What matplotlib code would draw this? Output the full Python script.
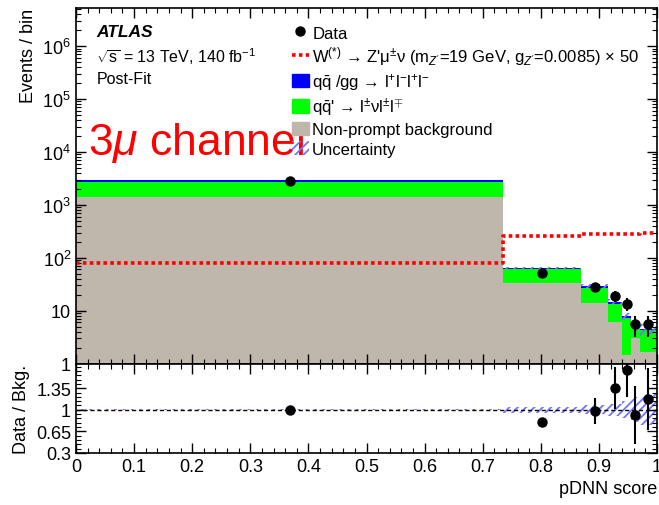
import numpy as np
import matplotlib
matplotlib.use("Agg")
from matplotlib import pyplot as plt
from matplotlib.patches import Patch
from matplotlib.lines import Line2D
from matplotlib.ticker import FixedLocator, LogLocator, NullFormatter, MultipleLocator

plt.rcParams['font.family'] = ['Liberation Sans', 'DejaVu Sans']
plt.rcParams['mathtext.fontset'] = 'custom'
plt.rcParams['mathtext.rm'] = 'Liberation Sans'
plt.rcParams['mathtext.it'] = 'Liberation Sans:italic'
plt.rcParams['mathtext.bf'] = 'Liberation Sans:bold'
plt.rcParams['hatch.linewidth'] = 1.3

# binning of the pDNN score
edges = [0.0, 0.735, 0.87, 0.915, 0.94, 0.955, 0.97, 1.0]

# stacked backgrounds (events / bin)
nonprompt = [1420, 33, 13.7, 6.2, 1.45, 3.06, 1.66]
wz = [1270, 28, 12.8, 7.1, 5.65, 1.6, 2.64]
zz = [230, 4, 2.8, 1.5, 0.8, 0.4, 0.2]
unc_rel = [0.01, 0.05, 0.07, 0.10, 0.14, 0.20, 0.25]

# signal x50
signal = [80, 254, 283, 285, 286, 287, 288]

# data
data = [2840, 52, 28, 19.2, 13.5, 5.6, 5.6]
data_err = [53, 7, 5, 4.4, 3.7, 2.4, 2.4]

# data / bkg
ratio = [1.0, 0.80, 0.98, 1.35, 1.64, 0.91, 1.18]
ratio_err = [0.02, 0.06, 0.21, 0.34, 0.44, 0.47, 0.5]

edges = np.array(edges)
centers = 0.5 * (edges[1:] + edges[:-1])
nonprompt = np.array(nonprompt)
wz = np.array(wz)
zz = np.array(zz)
total = nonprompt + wz + zz
unc_rel = np.array(unc_rel)

c_np = '#bfb6ac'
c_wz = '#00ff00'
c_zz = '#0000ff'
c_hatch = '#7373ff'

fig = plt.figure(figsize=(6.59, 5.06), dpi=100)
ax1 = fig.add_axes([0.1153, 0.2796, 0.8817, 0.702])
ax2 = fig.add_axes([0.1153, 0.1028, 0.8817, 0.1768], sharex=ax1)

def step(vals):
    return np.append(vals, vals[-1])

def fill(ax, lo, hi, **kw):
    ax.fill_between(edges, step(lo), step(hi), step='post', linewidth=0, **kw)

# main panel
fill(ax1, np.full(len(total), 0.5), nonprompt, color=c_np)
fill(ax1, nonprompt, nonprompt + wz, color=c_wz)
fill(ax1, nonprompt + wz, total, color=c_zz)
fill(ax1, total * (1 - unc_rel), total * (1 + unc_rel), facecolor='none',
     edgecolor=c_hatch, hatch='////')
ax1.step(edges, step(np.array(signal, dtype=float)), where='post', color='red',
         linestyle=(0, (1, 0.9)), linewidth=2.6)
ax1.errorbar(centers, data, yerr=data_err, fmt='o', color='black', markersize=6.5,
             elinewidth=1.5, capsize=0)

ax1.set_yscale('log')
ax1.set_ylim(1, 5.2e6)
ax1.set_xlim(0, 1)
ax1.yaxis.set_major_locator(FixedLocator([1, 10, 1e2, 1e3, 1e4, 1e5, 1e6]))
ax1.set_yticklabels(['1', '10', '$10^2$', '$10^3$', '$10^4$', '$10^5$', '$10^6$'])
ax1.yaxis.set_minor_locator(LogLocator(base=10, subs=np.arange(2, 10)))
ax1.yaxis.set_minor_formatter(NullFormatter())
ax1.set_ylabel('Events / bin', fontsize=13, loc='top', labelpad=4)
plt.setp(ax1.get_xticklabels(), visible=False)

ax1.text(0.035, 0.934, 'ATLAS', transform=ax1.transAxes, fontsize=12.5,
         fontweight='bold', fontstyle='italic', va='center')
ax1.text(0.035, 0.866, r'$\sqrt{\mathrm{s}}$ = 13 TeV, 140 fb$^{-1}$', transform=ax1.transAxes,
         fontsize=11.5, va='center')
ax1.text(0.035, 0.801, 'Post-Fit', transform=ax1.transAxes, fontsize=11.5, va='center')
ax1.text(0.02, 0.59, r'3$\mu$ channel', transform=ax1.transAxes, fontsize=32,
         color='red', va='baseline')

handles = [
    Line2D([], [], marker='o', color='black', linestyle='none', markersize=6.5),
    Line2D([], [], color='red', linestyle=(0, (1, 0.9)), linewidth=2.6),
    Patch(color=c_zz),
    Patch(color=c_wz),
    Patch(color=c_np),
    Patch(facecolor='none', edgecolor=c_hatch, hatch='////', linewidth=0),
]
labels = [
    'Data',
    r"W$^{(*)}$ → Z'μ$^{\pm}$ν (m$_{Z'}$=19 GeV, g$_{Z'}$=0.0085) × 50",
    r'q$\bar{\mathrm{q}}$ /gg → l$^{+}$l$^{-}$l$^{+}$l$^{-}$',
    r"q$\bar{\mathrm{q}}$' → l$^{\pm}$νl$^{\pm}$l$^{\mp}$",
    'Non-prompt background',
    'Uncertainty',
]
ax1.legend(handles, labels, loc='upper left', bbox_to_anchor=(0.372, 0.953),
           frameon=False, fontsize=12, handlelength=1.0, handleheight=0.9,
           handletextpad=0.2, labelspacing=0.22, borderpad=0, borderaxespad=0)

# ratio panel
fill(ax2, 1 - unc_rel, 1 + unc_rel, facecolor='none', edgecolor=c_hatch, hatch='////')
ax2.axhline(1, color='black', linestyle=(0, (3, 2)), linewidth=1)
ax2.errorbar(centers, ratio, yerr=ratio_err, fmt='o', color='black', markersize=6.5,
             elinewidth=1.5, capsize=0)
ax2.set_ylim(0.3, 1.75)
ax2.yaxis.set_major_locator(FixedLocator([0.3, 0.65, 1.0, 1.35]))
ax2.set_yticklabels(['0.3', '0.65', '1', '1.35'])
ax2.yaxis.set_minor_locator(FixedLocator(np.arange(0.3, 1.75, 0.07)))
ax2.set_ylabel('Data / Bkg.', fontsize=13, labelpad=4)
ax2.set_xlabel('pDNN score', fontsize=13, loc='right')
ax2.xaxis.set_major_locator(MultipleLocator(0.1))
ax2.xaxis.set_minor_locator(MultipleLocator(0.02))
ax2.set_xticks(np.arange(0, 1.01, 0.1))
ax2.set_xticklabels(['0', '0.1', '0.2', '0.3', '0.4', '0.5', '0.6', '0.7', '0.8', '0.9', '1'])

for ax in (ax1, ax2):
    ax.tick_params(which='both', direction='in', top=True, right=True, labelsize=13)
    ax.tick_params(which='major', length=7, width=1)
    ax.tick_params(which='minor', length=3.5, width=0.8)
    for s in ax.spines.values():
        s.set_linewidth(1.2)

fig.savefig('out.png', dpi=100)
